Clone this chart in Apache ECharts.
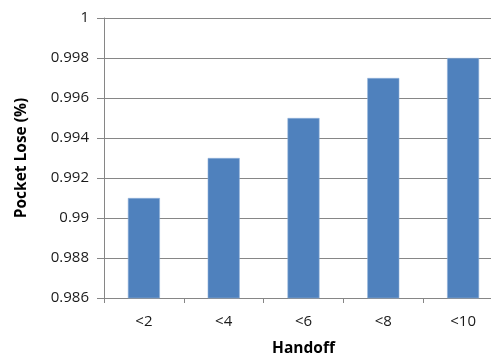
<!DOCTYPE html>
<html>
<head>
<meta charset="utf-8">
<script src="https://cdn.jsdelivr.net/npm/echarts@6/dist/echarts.min.js"></script>
<style>html,body{margin:0;padding:0;background:#fff}#c{width:491px;height:354px}</style>
</head>
<body>
<div id="c"></div>
<script>
const categories = ['<2', '<4', '<6', '<8', '<10'];
const values = [0.991, 0.993, 0.995, 0.997, 0.998];
const yMin = 0.986, yMax = 1, yStep = 0.002;
const xTitle = 'Handoff';
const yTitle = 'Pocket Lose (%)';

const chart = echarts.init(document.getElementById('c'), null, {renderer: 'canvas'});
const font = 'Open Sans';
chart.setOption({
  animation: false,
  grid: {left: 104, top: 18, width: 399, height: 280, containLabel: false, outerBoundsMode: 'none'},
  xAxis: {
    type: 'category', data: categories,
    name: xTitle, nameLocation: 'middle', nameGap: 43,
    nameTextStyle: {fontFamily: font, fontWeight: 'bold', fontSize: 15.5, color: '#000'},
    axisLine: {lineStyle: {color: '#868686', width: 1}},
    axisTick: {show: true, length: 5, lineStyle: {color: '#868686'}},
    axisLabel: {fontFamily: font, fontSize: 15, color: '#1a1a1a', margin: 16},
    splitLine: {show: false}
  },
  yAxis: {
    type: 'value', min: yMin, max: yMax, interval: yStep,
    name: yTitle, nameLocation: 'middle', nameGap: 74, nameRotate: 90,
    nameTextStyle: {fontFamily: font, fontWeight: 'bold', fontSize: 15.5, color: '#000'},
    axisLine: {show: true, lineStyle: {color: '#868686', width: 1}},
    axisTick: {show: true, length: 7, lineStyle: {color: '#868686'}},
    axisLabel: {fontFamily: font, fontSize: 15, color: '#1a1a1a', margin: 15,
      formatter: v => String(parseFloat(v.toFixed(3)))},
    splitLine: {show: true, lineStyle: {color: '#868686', width: 1}}
  },
  series: [{
    type: 'bar', data: values, barWidth: 32,
    itemStyle: {color: '#4F81BD', borderColor: '#8fb0d8', borderWidth: 0.6}
  }]
});
</script>
</body>
</html>
